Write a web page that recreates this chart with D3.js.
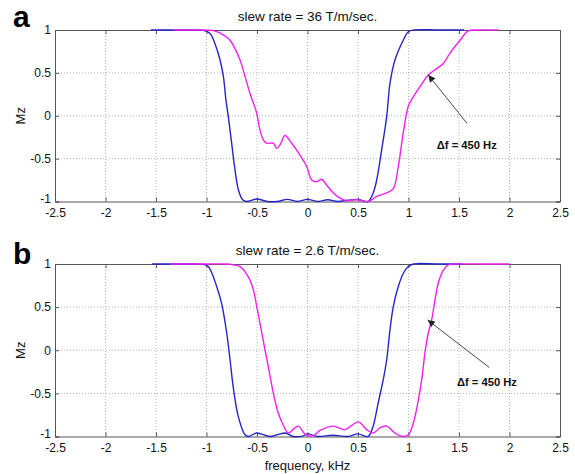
<!DOCTYPE html>
<html><head><meta charset="utf-8">
<script src="https://cdn.jsdelivr.net/npm/d3@7"></script>
<style>
body{margin:0;background:#fff;}
svg{display:block;font-family:"Liberation Sans",Arial,sans-serif;}
</style></head>
<body>
<script>
// ---- data ----
const xTicks = [-2.5,-2,-1.5,-1,-0.5,0,0.5,1,1.5,2,2.5];
const yTicks = [-1,-0.5,0,0.5,1];
const titles = ["slew rate = 36 T/m/sec.","slew rate = 2.6 T/m/sec."];
const panelLetters = ["a","b"];
const annotation = "\u0394f = 450 Hz";
const xLabel = "frequency, kHz";
const yLabel = "Mz";

// panel a, blue (reference)
const aBlueX = [-1.55,-1.2,-1.03,-0.965,-0.916,-0.866,-0.833,-0.807,-0.784,-0.751,-0.718,-0.685,-0.642,-0.602,-0.5,-0.4,-0.3,-0.2,-0.1,0.0,0.1,0.2,0.3,0.4,0.5,0.6,0.65,0.685,0.734,0.784,0.817,0.866,0.948,0.998,1.05,1.3,1.55];
const aBlueY = [1,1,0.995,0.96,0.84,0.65,0.46,0.18,-0.01,-0.32,-0.63,-0.86,-0.98,-1.0,-0.97,-1.0,-1.0,-0.975,-1.0,-0.975,-1.0,-0.98,-1.0,-0.985,-0.975,-1.0,-0.9,-0.75,-0.40,-0.01,0.38,0.65,0.88,0.98,1.0,1.0,1.0];
// panel a, magenta
const aMagX = [-1.33,-1.1,-0.95,-0.899,-0.83,-0.767,-0.668,-0.619,-0.569,-0.503,-0.47,-0.437,-0.404,-0.338,-0.305,-0.272,-0.223,-0.157,-0.107,-0.074,-0.008,0.041,0.091,0.14,0.19,0.256,0.322,0.388,0.487,0.602,0.685,0.784,0.85,0.899,0.948,0.998,1.047,1.114,1.196,1.279,1.345,1.411,1.51,1.592,1.7,1.89];
const aMagY = [1,1,0.995,0.98,0.94,0.88,0.65,0.46,0.26,0.03,-0.17,-0.28,-0.32,-0.32,-0.38,-0.34,-0.23,-0.32,-0.40,-0.46,-0.59,-0.75,-0.77,-0.74,-0.81,-0.90,-0.96,-0.99,-0.98,-1.0,-0.94,-0.90,-0.85,-0.59,-0.20,0.11,0.22,0.34,0.475,0.55,0.61,0.73,0.88,0.99,1.0,1.0];
// panel b, blue (reference)
const bBlueX = [-1.54,-1.2,-1.03,-0.982,-0.899,-0.85,-0.8,-0.767,-0.735,-0.685,-0.619,-0.586,-0.503,-0.37,-0.223,-0.14,-0.05,0.0,0.1,0.25,0.4,0.5,0.6,0.65,0.7,0.75,0.784,0.817,0.85,0.899,0.948,0.998,1.05,1.3,1.53];
const bBlueY = [1,1,0.995,0.97,0.74,0.54,0.20,-0.11,-0.43,-0.77,-0.98,-1.0,-0.96,-1.0,-0.96,-1.0,-0.995,-0.97,-1.0,-0.985,-1.0,-0.97,-1.0,-0.88,-0.61,-0.34,-0.11,0.24,0.51,0.74,0.89,0.97,1.0,1.0,1.0];
// panel b, magenta
const bMagX = [-1.36,-1.0,-0.8,-0.735,-0.668,-0.586,-0.536,-0.503,-0.47,-0.42,-0.388,-0.338,-0.289,-0.239,-0.19,-0.124,-0.09,-0.008,0.058,0.124,0.256,0.371,0.503,0.586,0.65,0.718,0.784,0.866,0.948,0.998,1.047,1.097,1.13,1.163,1.196,1.229,1.262,1.295,1.345,1.394,1.45,1.7,2.0];
const bMagY = [1,1,1,0.99,0.97,0.85,0.70,0.51,0.31,0.0,-0.19,-0.50,-0.73,-0.87,-0.96,-0.90,-0.88,-0.99,-0.99,-0.93,-0.88,-0.92,-0.83,-0.92,-0.96,-0.90,-0.88,-0.96,-1.0,-0.98,-0.85,-0.58,-0.35,-0.03,0.20,0.35,0.58,0.78,0.93,0.99,1.0,1.0,1.0];
// annotation arrows (data coords): [tailX, tailY, headX, headY, textX, textY]
const aArrow = [1.58,-0.09,1.196,0.475,1.28,-0.39];
const bArrow = [1.80,-0.20,1.19,0.35,1.48,-0.42];

// ---- layout ----
const W = 575, H = 474;
const svg = d3.select("body").append("svg").attr("width",W).attr("height",H);
const left = 55, right = 560;
const panels = [
  {top:30, bottom:201.5, title:titles[0], letter:panelLetters[0], blue:[aBlueX,aBlueY], mag:[aMagX,aMagY], arrow:aArrow, letterY:27, titleY:20.5, xlab:false},
  {top:264, bottom:436.5, title:titles[1], letter:panelLetters[1], blue:[bBlueX,bBlueY], mag:[bMagX,bMagY], arrow:bArrow, letterY:264, titleY:254.5, xlab:true}
];

svg.append("defs").append("marker").attr("id","ah").attr("viewBox","0 0 10 10")
  .attr("refX",10).attr("refY",5).attr("markerWidth",9).attr("markerHeight",7)
  .attr("markerUnits","userSpaceOnUse").attr("orient","auto")
  .append("path").attr("d","M0,0 L10,5 L0,10 z").attr("fill","#222");

panels.forEach(p=>{
  const x = d3.scaleLinear().domain([-2.5,2.5]).range([left,right]);
  const y = d3.scaleLinear().domain([-1,1]).range([p.bottom,p.top]);
  const g = svg.append("g");
  // grid
  g.selectAll(".gx").data(xTicks.slice(1,-1)).join("line")
    .attr("x1",d=>x(d)).attr("x2",d=>x(d)).attr("y1",p.top).attr("y2",p.bottom)
    .attr("stroke","#b4b4b4").attr("stroke-width",1).attr("stroke-dasharray","1,2");
  g.selectAll(".gy").data(yTicks.slice(1,-1)).join("line")
    .attr("x1",left).attr("x2",right).attr("y1",d=>y(d)).attr("y2",d=>y(d))
    .attr("stroke","#b4b4b4").attr("stroke-width",1).attr("stroke-dasharray","1,2");
  // axes
  const fmt = d=>String(d);
  const xb = g.append("g").attr("transform",`translate(0,${p.bottom})`)
    .call(d3.axisBottom(x).tickValues(xTicks).tickFormat(fmt).tickSize(-4).tickPadding(7));
  const xt = g.append("g").attr("transform",`translate(0,${p.top})`)
    .call(d3.axisTop(x).tickValues(xTicks).tickFormat("").tickSize(-4));
  const yl = g.append("g").attr("transform",`translate(${left},0)`)
    .call(d3.axisLeft(y).tickValues(yTicks).tickFormat(fmt).tickSize(-4).tickPadding(4));
  const yr = g.append("g").attr("transform",`translate(${right},0)`)
    .call(d3.axisRight(y).tickValues(yTicks).tickFormat("").tickSize(-4));
  [xb,xt,yl,yr].forEach(a=>{
    a.selectAll("path").attr("stroke","#555");
    a.selectAll("line").attr("stroke","#555");
    a.selectAll("text").attr("fill","#111").style("font-size","12px").style("font-family",'"Liberation Sans",Arial,sans-serif');
  });
  // nudge the lowest y label up slightly (as in the reference, it sits just above the first x label)
  yl.selectAll(".tick text").filter(d=>d===-1).attr("dy","0.1em");
  // curves
  const line = d3.line().x(d=>x(d[0])).y(d=>y(d[1])).curve(d3.curveCatmullRom.alpha(0.5));
  const bPts = d3.zip(p.blue[0],p.blue[1]);
  const mPts = d3.zip(p.mag[0],p.mag[1]);
  g.append("path").datum(bPts).attr("d",line).attr("fill","none").attr("stroke","#2626c8").attr("stroke-width",1.4);
  g.append("path").datum(mPts).attr("d",line).attr("fill","none").attr("stroke","#f020f0").attr("stroke-width",1.4);
  // annotation
  const a = p.arrow;
  g.append("line").attr("x1",x(a[0])).attr("y1",y(a[1])).attr("x2",x(a[2])).attr("y2",y(a[3]))
    .attr("stroke","#333").attr("stroke-width",0.9).attr("marker-end","url(#ah)");
  g.append("text").attr("x",x(a[4])).attr("y",y(a[5])).text(annotation)
    .style("font-size","11.2px").style("font-weight","bold").attr("fill","#111");
  // title
  g.append("text").attr("x",(left+right)/2).attr("y",p.titleY).attr("text-anchor","middle")
    .text(p.title).style("font-size","13.5px").attr("fill","#111");
  // letter
  g.append("text").attr("x",13).attr("y",p.letterY).text(p.letter)
    .style("font-size","30px").style("font-weight","bold").attr("fill","#000");
  // y label
  g.append("text").attr("transform",`translate(25,${(p.top+p.bottom)/2}) rotate(-90)`)
    .attr("text-anchor","middle").text(yLabel).style("font-size","13px").attr("fill","#111");
  if(p.xlab){
    g.append("text").attr("x",(left+right)/2).attr("y",469.5).attr("text-anchor","middle")
      .text(xLabel).style("font-size","13px").attr("fill","#111");
  }
});
</script>
</body></html>
